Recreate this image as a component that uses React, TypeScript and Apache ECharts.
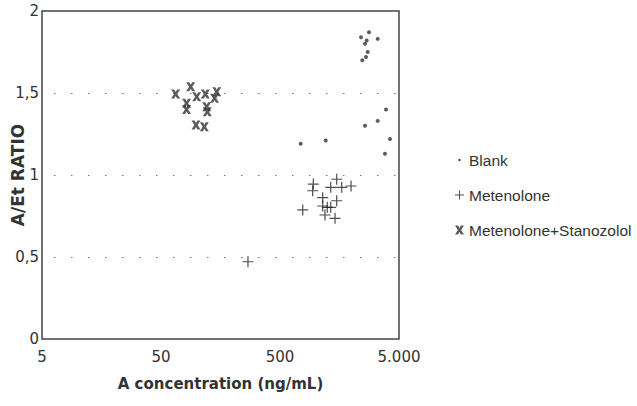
import React, { useEffect, useRef } from "react";
import * as echarts from "echarts";

// X tick values and labels (log axis)
const xTickValues = [5, 50, 500, 5000];
const xTickLabels = ["5", "50", "500", "5.000"];

// Blank
const blankX = [746, 1211, 4200, 3812, 2799, 2398, 3311, 2676, 2590, 2729, 2641, 2457, 3890, 3311, 2590];
const blankY = [1.19, 1.21, 1.22, 1.13, 1.87, 1.84, 1.83, 1.82, 1.80, 1.75, 1.72, 1.70, 1.40, 1.33, 1.30];

// Metenolone
const meteX = [953, 941, 1498, 1334, 1651, 1977, 1142, 1498, 776, 1142, 1248, 1334, 1194, 1450, 269];
const meteY = [0.945, 0.904, 0.974, 0.925, 0.925, 0.933, 0.862, 0.843, 0.787, 0.811, 0.803, 0.803, 0.756, 0.736, 0.471];

// Metenolone + Stanozolol
const comboX = [66.4, 88.8, 99.8, 117.9, 147, 141, 82, 82, 121, 122.5, 98.4, 115.6];
const comboY = [1.494, 1.538, 1.477, 1.494, 1.508, 1.468, 1.437, 1.4, 1.416, 1.386, 1.305, 1.294];

const seriesNames = ["Blank", "Metenolone", "Metenolone+Stanozolol"];

const zip = (xs: number[], ys: number[]) => xs.map((x, i) => [x, ys[i]]);

const plusPath = "path://M4.45,0h1.1v4.45h4.45v1.1h-4.45v4.45h-1.1v-4.45h-4.45v-1.1h4.45z";
const xPath = "path://M0,0h3.4l1.6,2.8l1.6,-2.8h3.4l-3.2,5l3.2,5h-3.4l-1.6,-2.8l-1.6,2.8h-3.4l3.2,-5z";
const dotLegendPath = "path://M0,0M10,10M3.5,5a1.5,1.5 0 1,0 3,0a1.5,1.5 0 1,0 -3,0z";

export default function App() {
  const ref = useRef<HTMLDivElement>(null);
  useEffect(() => {
    if (!ref.current) return;
    const chart = echarts.init(ref.current, null, { renderer: "svg" });
    chart.setOption({
      animation: false,
      backgroundColor: "#ffffff",
      grid: {
        left: 42,
        right: 238,
        top: 11,
        bottom: 67,
        containLabel: false,
        outerBoundsMode: "none",
        show: true,
        borderColor: "#444",
        borderWidth: 1.5,
        backgroundColor: "transparent",
      },
      legend: {
        orient: "vertical",
        left: 450,
        top: 147,
        itemWidth: 9,
        itemHeight: 9,
        itemGap: 19,
        itemTextGap: 11,
        textStyle: { fontFamily: "Liberation Sans", fontSize: 15.5, color: "#333" },
        data: [
          { name: seriesNames[0], icon: dotLegendPath },
          { name: seriesNames[1], icon: plusPath },
          { name: seriesNames[2], icon: xPath },
        ],
      },
      xAxis: {
        type: "log",
        logBase: 10,
        min: 5,
        max: 5000,
        name: "A concentration (ng/mL)",
        nameLocation: "middle",
        nameGap: 37,
        nameMoveOverlap: false,
        nameTextStyle: { fontFamily: "DejaVu Sans", fontWeight: "bold", fontSize: 15, color: "#333" },
        axisLine: { show: false },
        axisTick: { show: false },
        splitLine: { show: false },
        minorSplitLine: { show: false },
        axisLabel: {
          customValues: xTickValues,
          margin: 10,
          fontFamily: "DejaVu Sans",
          fontSize: 15,
          color: "#333",
          formatter: (v: number) => {
            const i = xTickValues.findIndex((t) => Math.abs(t - v) / t < 1e-6);
            return i >= 0 ? xTickLabels[i] : "";
          },
        },
      },
      yAxis: {
        type: "value",
        min: 0,
        max: 2,
        interval: 0.5,
        name: "A/Et RATIO",
        nameLocation: "middle",
        nameGap: 16,
        nameMoveOverlap: false,
        nameTextStyle: { fontFamily: "DejaVu Sans", fontWeight: "bold", fontSize: 17, color: "#333" },
        axisLine: { show: false },
        axisTick: { show: false },
        splitLine: {
          show: true,
          lineStyle: { color: "#777", width: 1, type: [1.5, 15.5], dashOffset: 5 },
        },
        axisLabel: {
          margin: 3,
          fontFamily: "DejaVu Sans",
          fontSize: 15,
          color: "#333",
          formatter: (v: number) => String(v).replace(".", ","),
        },
      },
      series: [
        {
          name: seriesNames[0],
          type: "scatter",
          data: zip(blankX, blankY),
          symbol: "circle",
          symbolSize: 4,
          itemStyle: { color: "#333" },
        },
        {
          name: seriesNames[1],
          type: "scatter",
          data: zip(meteX, meteY),
          symbol: plusPath,
          symbolSize: 11,
          itemStyle: { color: "#222" },
        },
        {
          name: seriesNames[2],
          type: "scatter",
          data: zip(comboX, comboY),
          symbol: xPath,
          symbolSize: 9,
          itemStyle: { color: "#333" },
        },
      ],
    });
    return () => chart.dispose();
  }, []);
  return (
    <div
      ref={ref}
      style={{ position: "fixed", left: 0, top: 0, width: 637, height: 406, background: "#fff" }}
    />
  );
}
